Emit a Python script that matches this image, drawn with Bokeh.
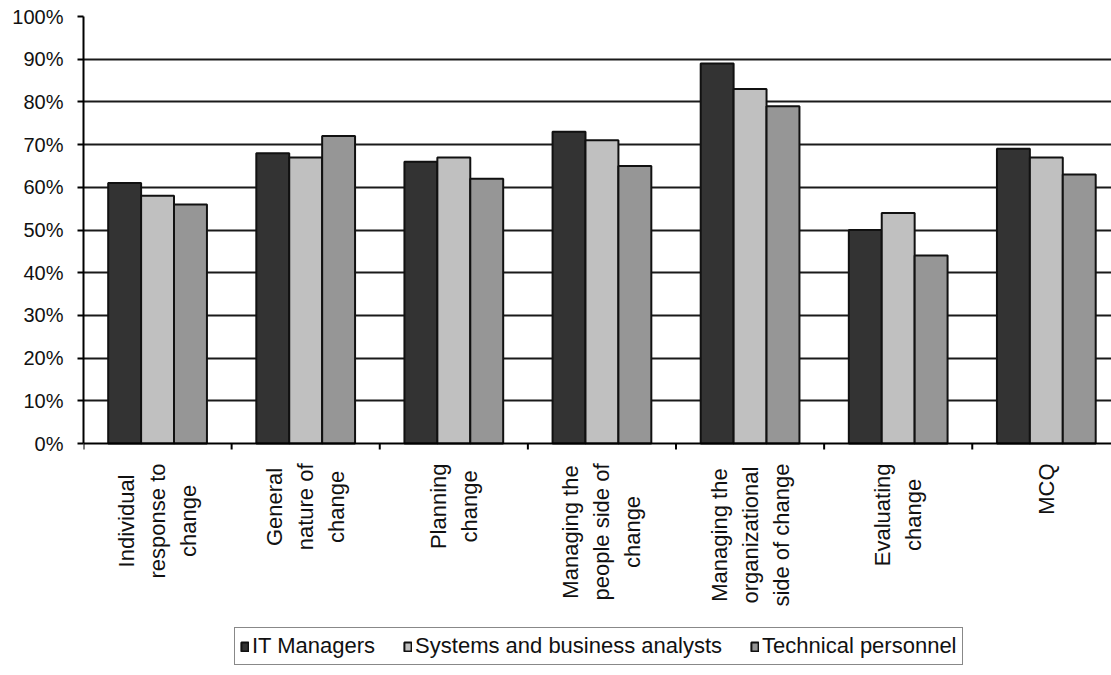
import math
from bokeh.plotting import figure
from bokeh.models import (ColumnDataSource, Range1d, FixedTicker, Grid, Span,
                          NumeralTickFormatter, Legend, LegendItem, Label)
from bokeh.embed import file_html
from bokeh.resources import INLINE

# Share of correct answers per knowledge area, by respondent group
categories = [
    "Individual\nresponse to\nchange",
    "General\nnature of\nchange",
    "Planning\nchange",
    "Managing the\npeople side of\nchange",
    "Managing the\norganizational\nside of change",
    "Evaluating\nchange",
    "MCQ",
]
it_managers = [0.61, 0.68, 0.66, 0.73, 0.89, 0.50, 0.69]
analysts = [0.58, 0.67, 0.67, 0.71, 0.83, 0.54, 0.67]
technical = [0.56, 0.72, 0.62, 0.65, 0.79, 0.44, 0.63]

series = [
    ("IT Managers", it_managers, "#333333"),
    ("Systems and business analysts", analysts, "#c0c0c0"),
    ("Technical personnel", technical, "#969696"),
]

FONT = "Liberation Sans"
W, H = 1111, 675
LEFT, TOP = 83, 16
AXIS_Y = 443                       # pixel row of the 0% line
PX_PER_UNIT = AXIS_Y - TOP         # pixels for 0%..100%
Y_START = -(H - AXIS_Y) / PX_PER_UNIT
X_END = 6.94
PX_PER_CAT = (W - LEFT) / X_END

n = len(categories)
bar_w = 1 / 4.5            # three bars plus a 150% gap per category
centers = [i + 0.5 for i in range(n)]
bounds = list(range(n + 1))

# Arial / Liberation Sans advance widths (per 1000 em) for centring label lines
ADV = {" ": 278, "a": 556, "b": 556, "c": 500, "d": 556, "e": 556, "f": 278,
       "g": 556, "h": 556, "i": 222, "l": 222, "m": 833, "n": 556, "o": 556,
       "p": 556, "r": 333, "s": 500, "t": 278, "u": 556, "v": 500, "y": 500,
       "z": 500, "C": 722, "E": 667, "G": 778, "I": 278, "M": 833, "P": 667,
       "Q": 778}


def text_len(s, size):
    return sum(ADV.get(ch, 556) for ch in s) * size / 1000


p = figure(width=W, height=H, output_backend="svg", toolbar_location=None,
           x_range=Range1d(0, X_END), y_range=Range1d(Y_START, 1),
           x_axis_location=None,
           min_border_left=LEFT, min_border_right=0, min_border_top=TOP,
           min_border_bottom=0)
p.background_fill_color = "white"
p.border_fill_color = "white"
p.outline_line_color = None

# Value axis, drawn only over 0%..100%
p.yaxis.bounds = (0, 1)
p.yaxis.ticker = FixedTicker(ticks=[i / 10 for i in range(11)])
p.yaxis.formatter = NumeralTickFormatter(format="0%")
p.yaxis.major_label_text_font = FONT
p.yaxis.major_label_text_font_size = "20px"
p.yaxis.major_label_text_color = "#111111"
p.yaxis.major_tick_out = 6
p.yaxis.major_tick_in = 0
p.yaxis.minor_tick_out = 0
p.yaxis.minor_tick_in = 0
p.yaxis.axis_line_color = "black"
p.yaxis.axis_line_width = 2
p.yaxis.major_tick_line_width = 2
p.yaxis.major_label_standoff = 14

p.xgrid.visible = False
p.ygrid.ticker = FixedTicker(ticks=[i / 10 for i in range(1, 10)])
p.ygrid.grid_line_color = "#1a1a1a"
p.ygrid.grid_line_width = 2
p.add_layout(Grid(dimension=1, ticker=FixedTicker(ticks=[1.0]),
                  grid_line_color="#999999", grid_line_width=2))

items = []
for k, (name, vals, color) in enumerate(series):
    src = ColumnDataSource(dict(x=[c + (k - 1) * bar_w for c in centers], top=vals))
    r = p.vbar(x="x", top="top", bottom=0, width=bar_w, source=src,
               fill_color=color, line_color="#111111", line_width=2)
    items.append(LegendItem(label=name, renderers=[r]))

# Category axis line and boundary tick marks
p.add_layout(Span(location=0, dimension="width", line_color="black", line_width=2))
tick_len = 6 / PX_PER_UNIT
p.segment(x0=bounds, y0=[0] * len(bounds), x1=bounds, y1=[-tick_len] * len(bounds),
          line_color="black", line_width=2)

# Vertical category labels, lines centred on each other, block hanging below the axis
LABEL_SIZE = 22
LINE_GAP = 31 / PX_PER_CAT
LABEL_TOP = 20
for c, cat in zip(centers, categories):
    lines = cat.split("\n")
    longest = max(text_len(s, LABEL_SIZE) for s in lines)
    y_mid = -(LABEL_TOP + longest / 2) / PX_PER_UNIT
    for j, line in enumerate(lines):
        p.add_layout(Label(x=c + (j - (len(lines) - 1) / 2) * LINE_GAP, y=y_mid,
                           text=line, angle=math.pi / 2, text_align="center",
                           text_baseline="middle", text_font=FONT,
                           text_font_size=f"{LABEL_SIZE}px", text_color="#111111"))

legend = Legend(items=items, orientation="horizontal", location=(151, 10),
                label_text_font=FONT, label_text_font_size="22px",
                label_text_color="#111111", label_height=20,
                glyph_width=9, glyph_height=11, label_standoff=3, spacing=28,
                padding=5, margin=0,
                border_line_color="#111111", border_line_width=1.5,
                background_fill_alpha=1)
p.add_layout(legend, "center")

open("out.html", "w").write(file_html(p, INLINE))
